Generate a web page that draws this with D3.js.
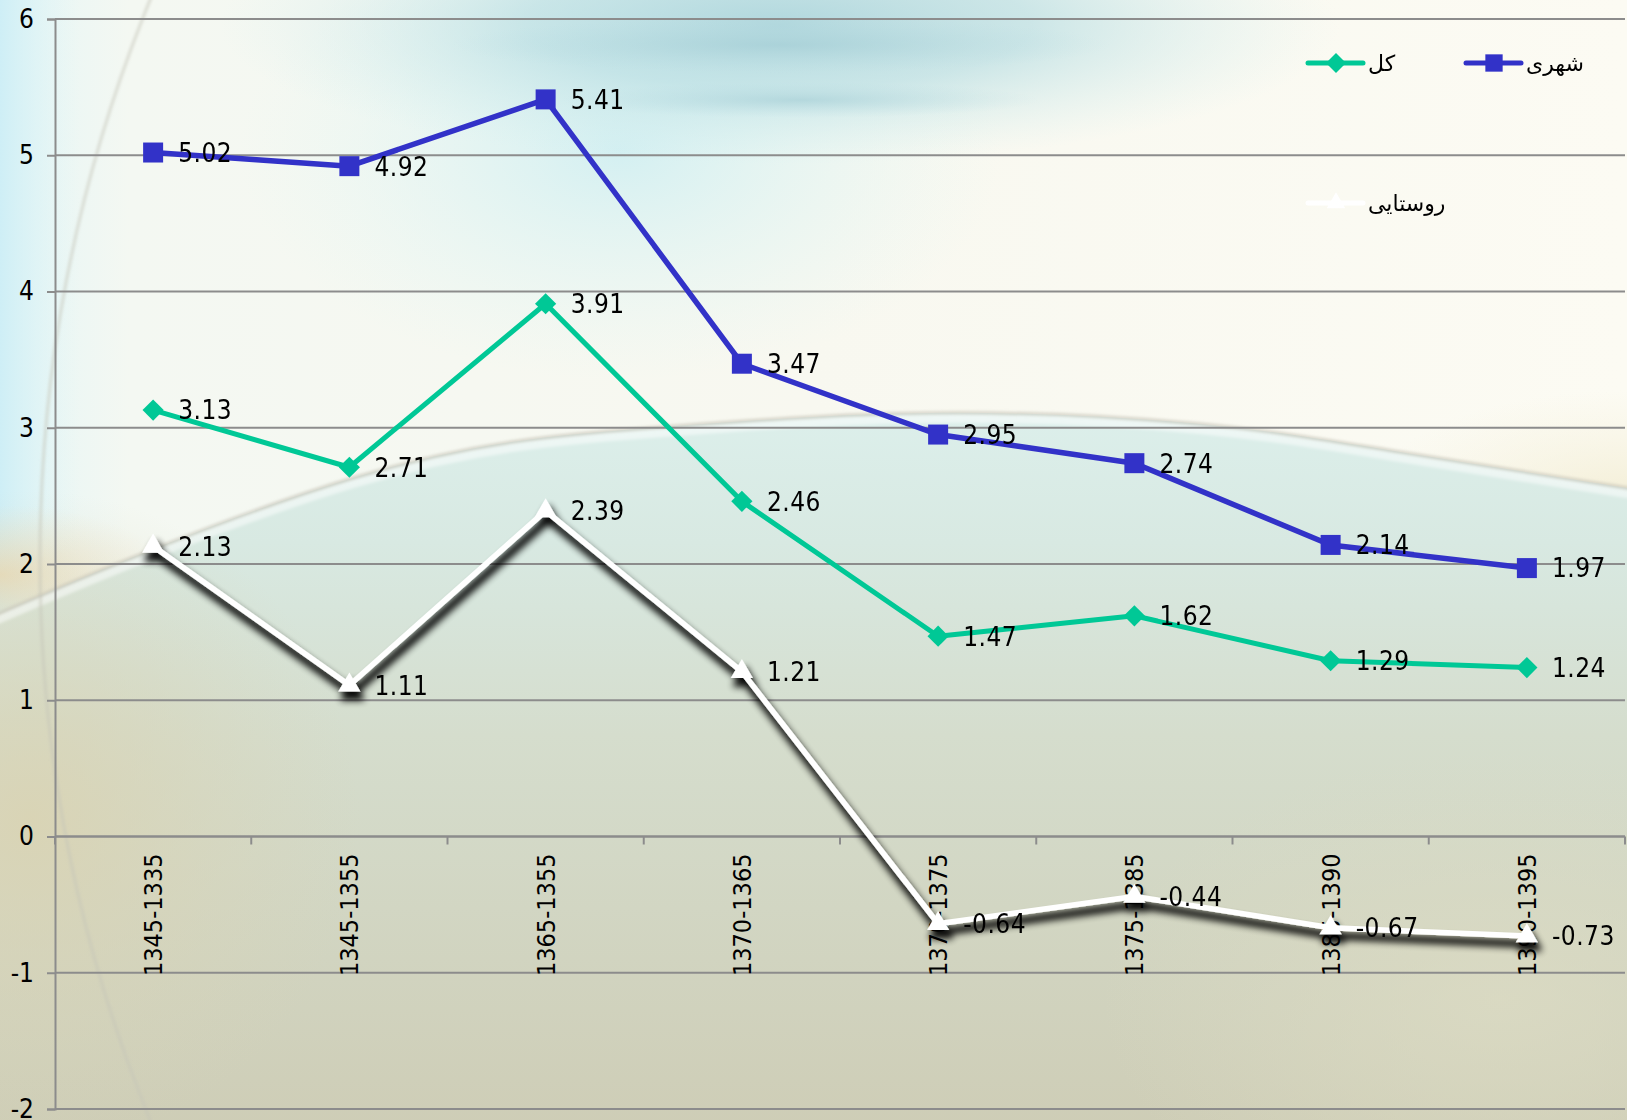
<!DOCTYPE html>
<html><head><meta charset="utf-8">
<script src="https://cdn.jsdelivr.net/npm/d3@7"></script>
<style>html,body{margin:0;padding:0;overflow:hidden;background:#f8f8f0}</style>
</head><body><svg id="c" width="1627" height="1120"></svg>
<script>
// ---- data ----
const categories = ["1345-1335","1345-1355","1365-1355","1370-1365","1370-1375","1375-1385","1385-1390","1390-1395"];
const urban = [5.02, 4.92, 5.41, 3.47, 2.95, 2.74, 2.14, 1.97];
const total = [3.13, 2.71, 3.91, 2.46, 1.47, 1.62, 1.29, 1.24];
const rural = [2.13, 1.11, 2.39, 1.21, -0.64, -0.44, -0.67, -0.73];
const yTicks = [-2, -1, 0, 1, 2, 3, 4, 5, 6];
const seriesNames = ["شهری", "کل", "روستایی"];

(function () {
const W = 1627, H = 1120;
const numFont = "'DejaVu Sans Condensed','DejaVu Sans',sans-serif";
const arFont = "'DejaVu Sans',sans-serif";
const svg = d3.select("#c");
const defs = svg.append("defs");

// ---- background ----
function lin(id, x1, y1, x2, y2, stops) {
  const g = defs.append("linearGradient").attr("id", id)
    .attr("x1", x1).attr("y1", y1).attr("x2", x2).attr("y2", y2);
  stops.forEach(s => g.append("stop").attr("offset", s[0]).attr("stop-color", s[1]).attr("stop-opacity", s[2] == null ? 1 : s[2]));
}
function rad(id, stops) {
  const g = defs.append("radialGradient").attr("id", id);
  stops.forEach(s => g.append("stop").attr("offset", s[0]).attr("stop-color", s[1]).attr("stop-opacity", s[2] == null ? 1 : s[2]));
}
lin("bgBase", 0, 0, 1, 0, [[0, "#e4f5f6"], [0.08, "#f4f8f2"], [0.5, "#f8f8f0"], [1, "#fcfbf3"]]);
rad("glowTop", [[0, "#a6d2da", 0.85], [0.45, "#b4dce2", 0.65], [1, "#d0eef0", 0]]);
rad("glowTop2", [[0, "#cdeef2", 0.85], [1, "#e0f6f4", 0]]);
rad("glowStreak", [[0, "#a2ccd4", 0.6], [1, "#b8dce2", 0]]);
rad("peach", [[0, "#f0d6a8", 0.75], [1, "#f2e0c0", 0]]);
rad("yellowR", [[0, "#f1ebcf", 0.8], [1, "#f5f0da", 0]]);
lin("leftCyan", 0, 0, 1, 0, [[0, "#cdeef6", 0.95], [1, "#e2f6f6", 0]]);
lin("lower", 0, 0, 0, 1, [[0, "#dcefeb"], [0.18, "#d8e9e2"], [0.45, "#d5ddcd"], [1, "#cecdb6"]]);
rad("lowerLeft", [[0, "#dad3b2", 0.85], [1, "#d8d4b8", 0]]);
rad("lowerRight", [[0, "#dddcc4", 0.7], [1, "#dddcc4", 0]]);
defs.append("filter").attr("id", "blur2").attr("x", "-10%").attr("y", "-10%").attr("width", "120%").attr("height", "120%")
  .append("feGaussianBlur").attr("stdDeviation", 1.5);

const bg = svg.append("g");
bg.append("rect").attr("width", W).attr("height", H).attr("fill", "url(#bgBase)");
bg.append("rect").attr("x", 0).attr("y", 0).attr("width", 80).attr("height", 640).attr("fill", "url(#leftCyan)");
bg.append("ellipse").attr("cx", 620).attr("cy", 150).attr("rx", 380).attr("ry", 230).attr("fill", "url(#glowTop2)");
bg.append("ellipse").attr("cx", 780).attr("cy", 25).attr("rx", 560).attr("ry", 140).attr("fill", "url(#glowTop)");
bg.append("ellipse").attr("cx", 780).attr("cy", 45).attr("rx", 330).attr("ry", 28).attr("fill", "url(#glowStreak)");
bg.append("ellipse").attr("cx", 800).attr("cy", 100).attr("rx", 240).attr("ry", 18).attr("fill", "url(#glowStreak)");
bg.append("ellipse").attr("cx", 0).attr("cy", 575).attr("rx", 170).attr("ry", 70).attr("fill", "url(#peach)");
bg.append("ellipse").attr("cx", 1627).attr("cy", 500).attr("rx", 260).attr("ry", 110).attr("fill", "url(#yellowR)");

const arcPts = [[-30, 632], [0, 613], [353, 478], [650, 428], [930, 413], [1200, 424], [1400, 452], [1627, 488], [1660, 495]];
const arcD = d3.line().curve(d3.curveNatural)(arcPts);
bg.append("path").attr("d", arcD + `L1660,${H + 10}L-30,${H + 10}Z`).attr("fill", "url(#lower)");
bg.append("ellipse").attr("cx", 30).attr("cy", 820).attr("rx", 330).attr("ry", 330).attr("fill", "url(#lowerLeft)");
bg.append("ellipse").attr("cx", 1500).attr("cy", 1000).attr("rx", 400).attr("ry", 250).attr("fill", "url(#lowerRight)");
bg.append("path").attr("d", arcD).attr("fill", "none").attr("stroke", "#ffffff").attr("stroke-opacity", 0.5)
  .attr("stroke-width", 10).attr("filter", "url(#blur2)").attr("transform", "translate(0,5)");
bg.append("path").attr("d", arcD).attr("fill", "none").attr("stroke", "#b4b0a0").attr("stroke-opacity", 0.55)
  .attr("stroke-width", 3).attr("filter", "url(#blur2)");
bg.append("circle").attr("cx", 1520).attr("cy", 560).attr("r", 1480).attr("fill", "none")
  .attr("stroke", "#c4c4b8").attr("stroke-opacity", 0.55).attr("stroke-width", 3).attr("filter", "url(#blur2)");

// ---- scales ----
const pLeft = 55, pRight = 1625, pTop = 19, pBottom = 1109;
const x = d3.scaleBand().domain(categories).range([pLeft, pRight]).padding(0);
const cx = c => x(c) + x.bandwidth() / 2;
const y = d3.scaleLinear().domain([-2, 6]).range([pBottom, pTop]);

// gridlines
svg.append("g").selectAll("line").data(yTicks).join("line")
  .attr("x1", pLeft).attr("x2", pRight).attr("y1", d => y(d)).attr("y2", d => y(d))
  .attr("stroke", "#8c8c8c").attr("stroke-width", 2);

// y axis
const yAxis = svg.append("g").attr("transform", `translate(${pLeft},0)`)
  .call(d3.axisLeft(y).tickValues(yTicks).tickSize(8).tickPadding(13).tickFormat(d => String(d)));
yAxis.select(".domain").attr("stroke", "#8c8c8c").attr("stroke-width", 2);
yAxis.selectAll(".tick line").attr("stroke", "#8c8c8c").attr("stroke-width", 2);
yAxis.selectAll(".tick text").attr("font-family", numFont).attr("font-size", 26).attr("fill", "#000");

// x axis at 0
const x0 = y(0);
const xg = svg.append("g");
xg.append("line").attr("x1", pLeft).attr("x2", pRight).attr("y1", x0).attr("y2", x0)
  .attr("stroke", "#8c8c8c").attr("stroke-width", 2);
const edges = categories.map(c => x(c)).concat([pRight]);
xg.selectAll("line.t").data(edges).join("line").attr("class", "t")
  .attr("x1", d => d).attr("x2", d => d).attr("y1", x0).attr("y2", x0 + 8)
  .attr("stroke", "#8c8c8c").attr("stroke-width", 2);
xg.selectAll("text").data(categories).join("text")
  .attr("transform", d => `translate(${cx(d)},${x0 + 17}) rotate(-90)`)
  .attr("text-anchor", "end").attr("dy", "0.36em")
  .attr("font-family", numFont).attr("font-size", 25).attr("fill", "#000")
  .text(d => d);

// ---- series ----
const blue = "#3232c8", green = "#00c896";
const line = d3.line().x((d, i) => cx(categories[i])).y(d => y(d));

const sf = defs.append("filter").attr("id", "shadow").attr("x", "-10%").attr("y", "-10%").attr("width", "120%").attr("height", "140%");
sf.append("feMorphology").attr("in", "SourceAlpha").attr("operator", "dilate").attr("radius", 1).attr("result", "d");
sf.append("feGaussianBlur").attr("in", "d").attr("stdDeviation", 3.5).attr("result", "b");
sf.append("feOffset").attr("in", "b").attr("dx", 3).attr("dy", 8).attr("result", "o");
sf.append("feComponentTransfer").attr("in", "o").attr("result", "oa")
  .append("feFuncA").attr("type", "linear").attr("slope", 0.95);
const mg = sf.append("feMerge");
mg.append("feMergeNode").attr("in", "oa");
mg.append("feMergeNode").attr("in", "SourceGraphic");

const rg = svg.append("g").attr("filter", "url(#shadow)");
rg.append("path").attr("d", line(rural)).attr("fill", "none").attr("stroke", "#ffffff")
  .attr("stroke-width", 5.5).attr("stroke-linejoin", "round");
rg.selectAll("path.m").data(rural).join("path").attr("class", "m")
  .attr("transform", (d, i) => `translate(${cx(categories[i])},${y(d)})`)
  .attr("d", d3.symbol(d3.symbolTriangle, 210)).attr("fill", "#ffffff");

const tg = svg.append("g");
tg.append("path").attr("d", line(total)).attr("fill", "none").attr("stroke", green)
  .attr("stroke-width", 5).attr("stroke-linejoin", "round");
tg.selectAll("path.m").data(total).join("path").attr("class", "m")
  .attr("transform", (d, i) => `translate(${cx(categories[i])},${y(d)}) rotate(45)`)
  .attr("d", d3.symbol(d3.symbolSquare, 225)).attr("fill", green);

const ug = svg.append("g");
ug.append("path").attr("d", line(urban)).attr("fill", "none").attr("stroke", blue)
  .attr("stroke-width", 5.5).attr("stroke-linejoin", "round");
ug.selectAll("path.m").data(urban).join("path").attr("class", "m")
  .attr("transform", (d, i) => `translate(${cx(categories[i])},${y(d)})`)
  .attr("d", d3.symbol(d3.symbolSquare, 400)).attr("fill", blue);

// data labels
[urban, total, rural].forEach(arr => {
  svg.append("g").selectAll("text").data(arr).join("text")
    .attr("x", (d, i) => cx(categories[i]) + 25).attr("y", d => y(d))
    .attr("dy", "0.36em").attr("font-family", numFont).attr("font-size", 26)
    .attr("letter-spacing", 0.5).attr("fill", "#000")
    .text(d => d.toFixed(2));
});

// ---- legend ----
const lg = svg.append("g");
function legendItem(x1, yy, color, sym, size, rot, label) {
  lg.append("line").attr("x1", x1).attr("x2", x1 + 55).attr("y1", yy).attr("y2", yy)
    .attr("stroke", color).attr("stroke-width", 5).attr("stroke-linecap", "round");
  lg.append("path").attr("transform", `translate(${x1 + 28},${yy}) rotate(${rot})`)
    .attr("d", d3.symbol(sym, size)).attr("fill", color);
  lg.append("text").attr("x", x1 + 60).attr("y", yy).attr("dy", "0.35em")
    .attr("font-family", arFont).attr("font-size", 22).attr("fill", "#000").text(label);
}
legendItem(1308, 63, green, d3.symbolSquare, 200, 45, seriesNames[1]);
legendItem(1466, 63, blue, d3.symbolSquare, 300, 0, seriesNames[0]);
legendItem(1308, 203, "#ffffff", d3.symbolTriangle, 150, 0, seriesNames[2]);
})();
</script></body></html>
